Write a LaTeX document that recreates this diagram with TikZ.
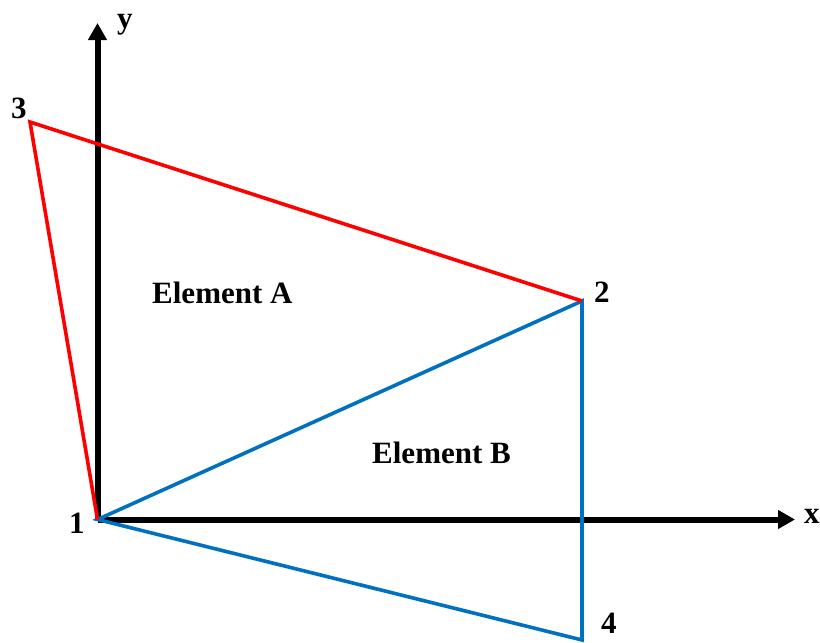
\documentclass[tikz,border=0pt]{standalone}
\usepackage{fontspec}
\setmainfont{Liberation Serif}
\usetikzlibrary{arrows.meta}
\definecolor{elred}{RGB}{255,0,0}
\definecolor{elblue}{RGB}{0,112,192}
\tikzset{
  axis/.style={line width=6pt, black, -{Triangle[length=17pt,width=18pt]}},
  redel/.style={line width=3.6pt, elred, line join=miter},
  blueel/.style={line width=3.6pt, elblue, line join=miter},
  lbl/.style={inner sep=0pt, anchor=base west, font=\fontsize{31}{31}\selectfont\bfseries},
}
\begin{document}
\begin{tikzpicture}[x=1pt,y=-1pt]
\useasboundingbox (0,0) rectangle (820,643);
\coordinate (n1) at (97.5,519.5);
\coordinate (n2) at (582,301);
\coordinate (n3) at (30,122);
\coordinate (n4) at (582,640);
\coordinate (ytip) at (97.5,23);
\coordinate (xtip) at (795,519.5);
% axes
\draw[axis] (n1) -- (ytip);
\draw[axis] (n1) -- (xtip);
% elements
\draw[blueel] (n1) -- (n2) -- (n4) -- cycle;
\draw[redel] (n1) -- (n3) -- (n2);
% labels
\node[lbl] (ly) at (117,28) {y};
\node[lbl] (lx) at (804,523) {x};
\node[lbl] (l3) at (11,118) {3};
\node[lbl] (l2) at (594,302) {2};
\node[lbl] (l1) at (69,533) {1};
\node[lbl] (l4) at (601,633) {4};
\node[lbl] (ea) at (152,303) {Element A};
\node[lbl] (eb) at (372,463) {Element B};
\end{tikzpicture}
\end{document}
